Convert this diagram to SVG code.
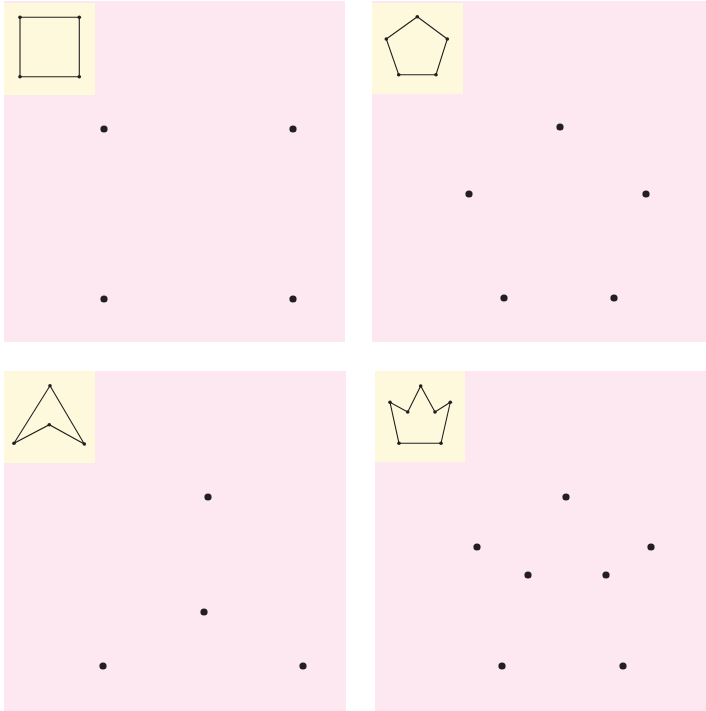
<svg xmlns="http://www.w3.org/2000/svg" width="706" height="711" viewBox="0 0 706 711">
<style>
.panel{fill:#fde7f0}
.inset{fill:#fef9dc}
.shape{fill:none;stroke:#231f20;stroke-width:1.1;stroke-linejoin:miter}
.dot{fill:#231f20}
.sdot{fill:#231f20}
</style>
<rect width="706" height="711" fill="#ffffff"/>
<g id="panel-square">
<rect class="panel" x="4" y="1" width="341" height="341"/>
<rect class="inset" x="4" y="3" width="91" height="92"/>
<polygon class="shape" points="20,17.3 79.3,17.3 79.3,76.7 20,76.7"/>
<g class="sdot"><circle cx="20" cy="17.3" r="1.8"/><circle cx="79.3" cy="17.3" r="1.8"/><circle cx="79.3" cy="76.7" r="1.8"/><circle cx="20" cy="76.7" r="1.8"/></g>
<g class="dot"><circle cx="104" cy="129" r="3.6"/><circle cx="293" cy="129" r="3.6"/><circle cx="104" cy="299" r="3.6"/><circle cx="293" cy="299" r="3.6"/></g>
</g>
<g id="panel-pentagon">
<rect class="panel" x="372" y="1" width="334" height="341"/>
<rect class="inset" x="372" y="3" width="91" height="91"/>
<polygon class="shape" points="417.3,16.7 447.3,39 436,74.7 398.7,74.7 386.3,39"/>
<g class="sdot"><circle cx="417.3" cy="16.7" r="1.8"/><circle cx="447.3" cy="39" r="1.8"/><circle cx="436" cy="74.7" r="1.8"/><circle cx="398.7" cy="74.7" r="1.8"/><circle cx="386.3" cy="39" r="1.8"/></g>
<g class="dot"><circle cx="560" cy="127" r="3.6"/><circle cx="469" cy="194" r="3.6"/><circle cx="646" cy="194" r="3.6"/><circle cx="504" cy="298" r="3.6"/><circle cx="614" cy="298" r="3.6"/></g>
</g>
<g id="panel-arrow">
<rect class="panel" x="4" y="371" width="342" height="340"/>
<rect class="inset" x="4" y="371" width="91" height="92"/>
<polygon class="shape" points="50,385.7 84.3,444 49.3,424.7 14,443.3"/>
<g class="sdot"><circle cx="50" cy="385.7" r="1.8"/><circle cx="84.3" cy="444" r="1.8"/><circle cx="49.3" cy="424.7" r="1.8"/><circle cx="14" cy="443.3" r="1.8"/></g>
<g class="dot"><circle cx="208" cy="497" r="3.6"/><circle cx="204" cy="612" r="3.6"/><circle cx="103" cy="666" r="3.6"/><circle cx="303" cy="666" r="3.6"/></g>
</g>
<g id="panel-crown">
<rect class="panel" x="375" y="371" width="331" height="340"/>
<rect class="inset" x="375" y="371" width="90" height="91"/>
<polygon class="shape" points="399,443.3 390,402.3 407.7,412 420.7,386 435,412 450.3,402.3 441,443.3"/>
<g class="sdot"><circle cx="399" cy="443.3" r="1.8"/><circle cx="390" cy="402.3" r="1.8"/><circle cx="407.7" cy="412" r="1.8"/><circle cx="420.7" cy="386" r="1.8"/><circle cx="435" cy="412" r="1.8"/><circle cx="450.3" cy="402.3" r="1.8"/><circle cx="441" cy="443.3" r="1.8"/></g>
<g class="dot"><circle cx="566" cy="497" r="3.6"/><circle cx="477" cy="547" r="3.6"/><circle cx="651" cy="547" r="3.6"/><circle cx="528" cy="575" r="3.6"/><circle cx="606" cy="575" r="3.6"/><circle cx="502" cy="666" r="3.6"/><circle cx="623" cy="666" r="3.6"/></g>
</g>
<g id="connectors"></g>
</svg>
